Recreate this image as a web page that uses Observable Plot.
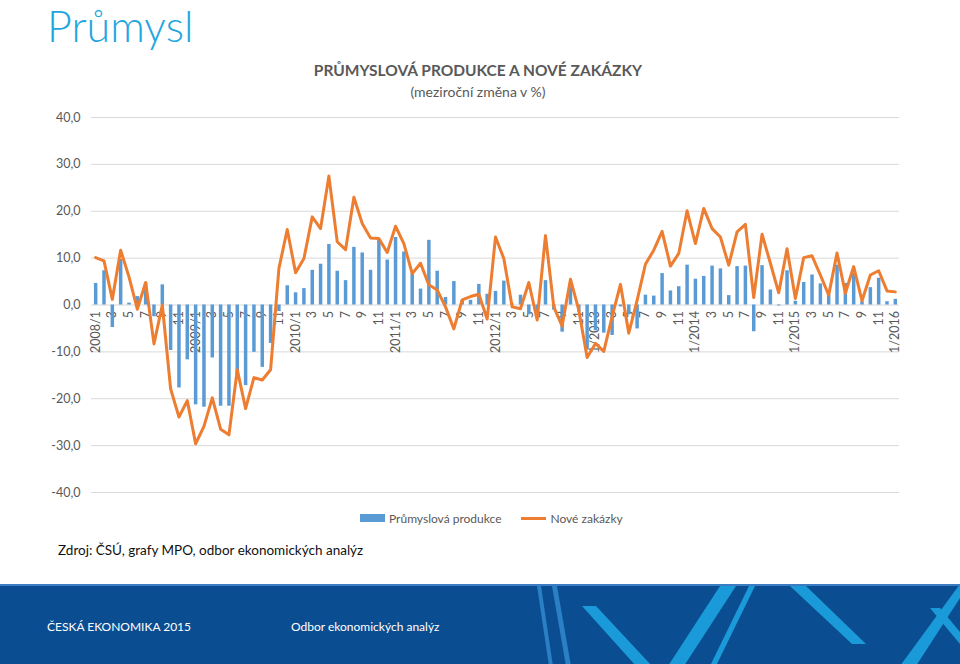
<!DOCTYPE html>
<html><head><meta charset="utf-8">
<script src="https://cdn.jsdelivr.net/npm/d3@7"></script>
<script src="https://cdn.jsdelivr.net/npm/@observablehq/plot@0.6"></script>
<style>
html,body{margin:0;padding:0;background:#fff;}
body{width:960px;height:664px;position:relative;overflow:hidden;font-family:Lato,"Open Sans",sans-serif;}
#page-title{position:absolute;left:47px;top:2px;font-size:43px;line-height:48px;font-weight:300;color:#1fa6e0;}
#chart-title{position:absolute;left:0;width:956px;top:61px;text-align:center;font-size:15.5px;font-weight:bold;color:#595959;}
#chart-sub{position:absolute;left:0;width:956px;top:83px;text-align:center;font-size:14px;color:#595959;}
#chart{position:absolute;left:0;top:100px;}
#legend{position:absolute;top:510px;left:360px;font-size:12px;color:#595959;display:flex;align-items:center;height:16px;}
#legend .sw{display:inline-block;width:25px;margin-right:4px;}
#source{position:absolute;left:58px;top:542px;font-size:13.5px;color:#111;}
#footer{position:absolute;left:0;top:584px;width:960px;height:80px;background:#0b4d91;border-top:2px solid #3b7cc3;box-sizing:border-box;}
#footer .ft{position:absolute;top:33px;font-size:12px;color:#fff;}
#footer svg{position:absolute;left:0;top:0;}
</style></head>
<body>
<div id="page-title">Průmysl</div>
<div id="chart-title">PRŮMYSLOVÁ PRODUKCE A NOVÉ ZAKÁZKY</div>
<div id="chart-sub">(meziroční změna v %)</div>
<div id="chart"></div>
<div id="legend">
  <span class="sw" style="height:8px;background:#5b9bd5;"></span><span>Průmyslová produkce</span>
  <span class="sw" style="height:3px;background:#ed7d31;margin-left:20px;"></span><span>Nové zakázky</span>
</div>
<div id="source">Zdroj: ČSÚ, grafy MPO, odbor ekonomických analýz</div>
<div id="footer">
  <svg width="960" height="80" viewBox="0 0 960 80">
    <g fill="#1a9ad8">
      <polygon points="537,0 541,0 553,80 549,80" fill="#2b7fc4"/>
      <polygon points="552,0 557,0 571,80 566,80" fill="#2b7fc4"/>
      <polygon points="582,20 596,20 652,80 636,80"/>
      <polygon points="668,80 684,80 736,0 720,0"/>
      <polygon points="749,0 755,0 716,80 710,80"/>
      <polygon points="790,0 806,0 866,58 852,58"/>
      <polygon points="900,80 916,80 960,12 960,-2"/>
      <polygon points="930,22 940,22 960,46 960,58"/>
    </g>
  </svg>
  <div class="ft" style="left:47px;">ČESKÁ EKONOMIKA 2015</div>
  <div class="ft" style="left:291px;">Odbor ekonomických analýz</div>
</div>
<script>
// Categories: months 2008/1 .. 2016/1
const years = [2008, 2009, 2010, 2011, 2012, 2013, 2014, 2015, 2016];
const months = [];
for (const y of years) for (let m = 1; m <= 12; m++) { if (y === 2016 && m > 1) break; months.push(`${y}-${String(m).padStart(2, "0")}`); }

// Průmyslová produkce (y/y %)
const production = [
  4.6, 7.3, -4.8, 9.7, 0.4, 1.8, 4.6, -2.5, 4.3, -9.7, -17.7, -11.7,
  -21.3, -21.8, -11.3, -21.6, -21.6, -15.2, -17.2, -10.1, -13.3, -8.2, -1.4, 4.1,
  2.6, 3.5, 7.4, 8.7, 12.9, 7.2, 5.2, 12.3, 11.1, 7.4, 13.8, 9.6,
  14.4, 11.3, 6.7, 3.4, 13.8, 7.2, 1.6, 5.0, 1.0, 1.0, 4.4, 2.3,
  2.9, 5.1, 0.2, 2.1, -2.1, -1.5, 5.2, -1.1, -5.8, 3.7, -1.5, -9.6,
  -5.5, -6.0, -6.5, -0.4, -2.1, -5.1, 2.1, 1.9, 6.7, 3.0, 3.9, 8.5,
  5.5, 6.1, 8.3, 7.7, 2.0, 8.2, 8.3, -5.7, 8.4, 3.2, -0.2, 7.3,
  0.8, 4.8, 6.4, 4.5, 2.1, 8.5, 4.6, 6.7, 0.7, 3.7, 5.7, 0.7,
  1.2
];

// Nové zakázky (y/y %)
const orders = [
  10.1, 9.4, 1.2, 11.7, 6.0, -0.9, 4.8, -8.3, 0.0, -17.9, -23.9, -20.4,
  -29.6, -25.9, -19.8, -26.5, -27.7, -13.8, -22.1, -15.5, -16.0, -13.8, 7.8, 16.1,
  6.9, 9.9, 18.8, 16.3, 27.5, 13.5, 11.8, 23.0, 17.4, 14.3, 14.2, 11.2,
  16.8, 13.1, 6.7, 8.9, 4.3, 3.2, -0.4, -5.1, 1.1, 1.8, 2.3, -3.0,
  14.5, 9.9, -0.4, -0.8, 4.8, -3.2, 14.8, -0.4, -4.5, 5.5, -1.1, -11.2,
  -8.2, -9.9, -2.5, 4.4, -6.0, 1.0, 8.7, 11.7, 15.7, 8.3, 11.0, 20.1,
  13.1, 20.6, 16.3, 14.5, 8.5, 15.6, 17.2, 1.6, 15.1, 8.9, 2.6, 12.0,
  1.4, 10.1, 10.5, 6.4, 2.1, 11.1, 2.5, 8.2, 0.9, 6.4, 7.3, 3.0,
  2.8
];

// X tick labels (every second month)
const tickLabels = [
  "2008/1", "3", "5", "7", "9", "11",
  "2009/1", "3", "5", "7", "9", "11",
  "2010/1", "3", "5", "7", "9", "11",
  "2011/1", "3", "5", "7", "9", "11",
  "2012/1", "3", "5", "7", "9", "11",
  "1/2013", "3", "5", "7", "9", "11",
  "1/2014", "3", "5", "7", "9", "11",
  "1/2015", "3", "5", "7", "9", "11",
  "1/2016"
];

const yTicks = [-40, -30, -20, -10, 0, 10, 20, 30, 40];

const data = months.map((month, i) => ({month, prod: production[i], orders: orders[i]}));
const tickData = months.filter((_, i) => i % 2 === 0).map((month, j) => ({month, label: tickLabels[j]}));
const fmt = d => d.toFixed(1).replace(".", ",");

const chart = Plot.plot({
  width: 960,
  height: 410,
  marginLeft: 91,
  marginRight: 61,
  marginTop: 17,
  marginBottom: 18,
  style: {fontFamily: "Lato, 'Open Sans', sans-serif", fontSize: "12px", color: "#595959", background: "transparent"},
  x: {type: "point", domain: months, padding: 0.5, axis: null},
  y: {domain: [-40, 40], axis: null},
  marks: [
    Plot.gridY(yTicks, {stroke: "#d9d9d9", strokeOpacity: 1, strokeWidth: 1}),
    Plot.axisY(yTicks, {tickSize: 0, tickPadding: 11, tickFormat: fmt, fill: "#595959", fontSize: 12.5}),
    Plot.text(tickData, {x: "month", y: () => 0, text: "label", rotate: -90, textAnchor: "end", dy: 6, fill: "#595959", fontSize: 12.5}),
    Plot.ruleX(data, {x: "month", y1: () => 0, y2: "prod", stroke: "#5b9bd5", strokeWidth: 3.5}),
    Plot.line(data, {x: "month", y: "orders", stroke: "#ed7d31", strokeWidth: 3, strokeLinejoin: "round", strokeLinecap: "round"})
  ]
});
document.getElementById("chart").append(chart);
</script>
</body></html>
